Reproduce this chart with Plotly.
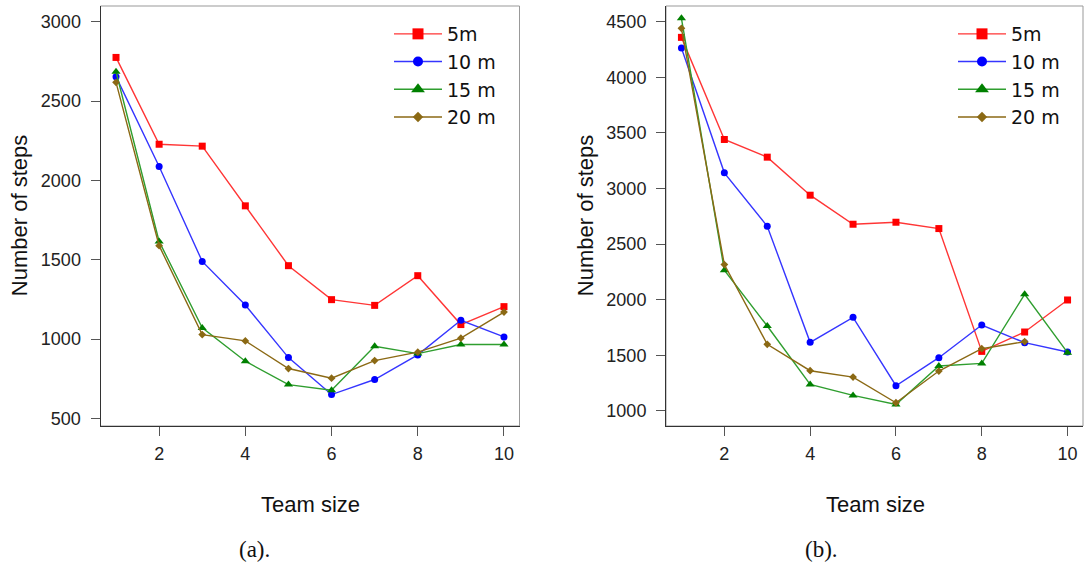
import plotly.graph_objects as go

team_size = [1, 2, 3, 4, 5, 6, 7, 8, 9, 10]
series_names = ["5m", "10 m", "15 m", "20 m"]

# Panel (a)
a_5m = [2775, 2228, 2216, 1840, 1463, 1249, 1213, 1400, 1092, 1205]
a_10m = [2654, 2088, 1490, 1215, 884, 651, 746, 901, 1119, 1014]
a_15m = [2685, 1616, 1071, 861, 714, 678, 955, 909, 966, 966]
a_20m = [2618, 1589, 1029, 989, 815, 754, 865, 918, 1006, 1171]

# Panel (b)
b_5m = [4359, 3441, 3282, 2940, 2679, 2697, 2640, 1536, 1710, 1998]
b_10m = [4263, 3141, 2661, 1617, 1842, 1227, 1479, 1773, 1614, 1530]
b_15m = [4530, 2265, 1764, 1239, 1140, 1059, 1404, 1428, 2049, 1524]
b_20m = [4440, 2316, 1599, 1362, 1305, 1074, 1359, 1560, 1623, None]

x_ticks = [2, 4, 6, 8, 10]
a_yticks = [500, 1000, 1500, 2000, 2500, 3000]
b_yticks = [1000, 1500, 2000, 2500, 3000, 3500, 4000, 4500]

line_colors = ["#ff3535", "#3535ff", "#2f9e2f", "#8b6914"]
marker_colors = ["#ff0000", "#0000ff", "#008000", "#8b6914"]
symbols = ["square", "circle", "triangle-up", "diamond"]
sizes = [7, 7, 8, 6]
legend_sizes = [11, 10, 12, 8]

W, H = 1084, 564
ML, MR, MT = 0, 0, 6
PLOT_BOTTOM = 425.7  # window px
MB = H - PLOT_BOTTOM

fig = go.Figure()

panels = [
    ([a_5m, a_10m, a_15m, a_20m], "x", "y", "legend"),
    ([b_5m, b_10m, b_15m, b_20m], "x2", "y2", "legend2"),
]
for data, xa, ya, lg in panels:
    for i, vals in enumerate(data):
        fig.add_trace(go.Scatter(
            x=team_size, y=vals, xaxis=xa, yaxis=ya, mode="lines+markers",
            line=dict(color=line_colors[i], width=1.4),
            marker=dict(color=marker_colors[i], symbol=symbols[i], size=sizes[i]),
            showlegend=False, cliponaxis=False))
    for i, name in enumerate(series_names):
        fig.add_trace(go.Scatter(
            x=[None], y=[None], xaxis=xa, yaxis=ya, mode="lines+markers", name=name,
            line=dict(color=line_colors[i], width=1.4),
            marker=dict(color=marker_colors[i], symbol=symbols[i], size=legend_sizes[i]),
            legend=lg, legendgroup=lg + name, showlegend=True))

def px(v):
    return v / (W - ML - MR)

def py(v):
    return 1 - (v - MT) / (H - MT - MB)

axis_common = dict(showgrid=False, zeroline=False, showline=True, linecolor="#333333",
                   linewidth=1, ticks="outside", ticklen=9, tickcolor="#555555",
                   tickfont=dict(family="Liberation Sans, Arial, sans-serif", size=18, color="#222222"))

legend_common = dict(xanchor="left", yanchor="top", bgcolor="rgba(0,0,0,0)",
                     font=dict(family="DejaVu Sans, sans-serif", size=19, color="#111111"),
                     traceorder="grouped", tracegroupgap=0, itemsizing="trace", itemwidth=48)

fig.update_layout(
    width=W, height=H, margin=dict(l=ML, r=MR, t=MT, b=MB),
    plot_bgcolor="white", paper_bgcolor="white",
    xaxis=dict(domain=[px(100.5), px(519.5)], range=[0.64, 10.36], tickvals=x_ticks,
               anchor="y", ticklabelstandoff=2, **axis_common),
    yaxis=dict(domain=[0, 1], range=[453, 3099], tickvals=a_yticks, anchor="x",
               ticklabelstandoff=6, **axis_common),
    xaxis2=dict(domain=[px(666), px(1083)], range=[0.64, 10.36], tickvals=x_ticks,
                anchor="y2", ticklabelstandoff=2, **axis_common),
    yaxis2=dict(domain=[0, 1], range=[865, 4641], tickvals=b_yticks, anchor="x2",
                ticklabelstandoff=6, **axis_common),
    legend=dict(x=px(389), y=py(15), **legend_common),
    legend2=dict(x=px(953), y=py(15), **legend_common),
)

# light frame around each plotting region
for xr, yr in [("x domain", "y domain"), ("x2 domain", "y2 domain")]:
    fig.add_shape(type="rect", xref=xr, yref=yr, x0=0, x1=1, y0=0, y1=1,
                  line=dict(color="#999999", width=1), layer="below")

title_font = dict(family="Liberation Sans, Arial, sans-serif", size=22, color="#111111")
cap_font = dict(family="Liberation Serif, Times New Roman, serif", size=23, color="#111111")
for cx, lx, cap, capx in [(310, 19, "(a).", 254), (875, 585, "(b).", 821)]:
    fig.add_annotation(text="Team size", x=px(cx), y=py(504), xref="paper", yref="paper",
                       showarrow=False, font=title_font, xanchor="center", yanchor="middle")
    fig.add_annotation(text="Number of steps", x=px(lx), y=py(216), xref="paper", yref="paper",
                       showarrow=False, font=title_font, textangle=-90,
                       xanchor="center", yanchor="middle")
    fig.add_annotation(text=cap, x=px(capx), y=py(549), xref="paper", yref="paper",
                       showarrow=False, font=cap_font, xanchor="center", yanchor="middle")

fig.write_html("out.html", config={"displayModeBar": False},
               post_script="document.body.style.margin='0';document.body.style.overflow='hidden';")
